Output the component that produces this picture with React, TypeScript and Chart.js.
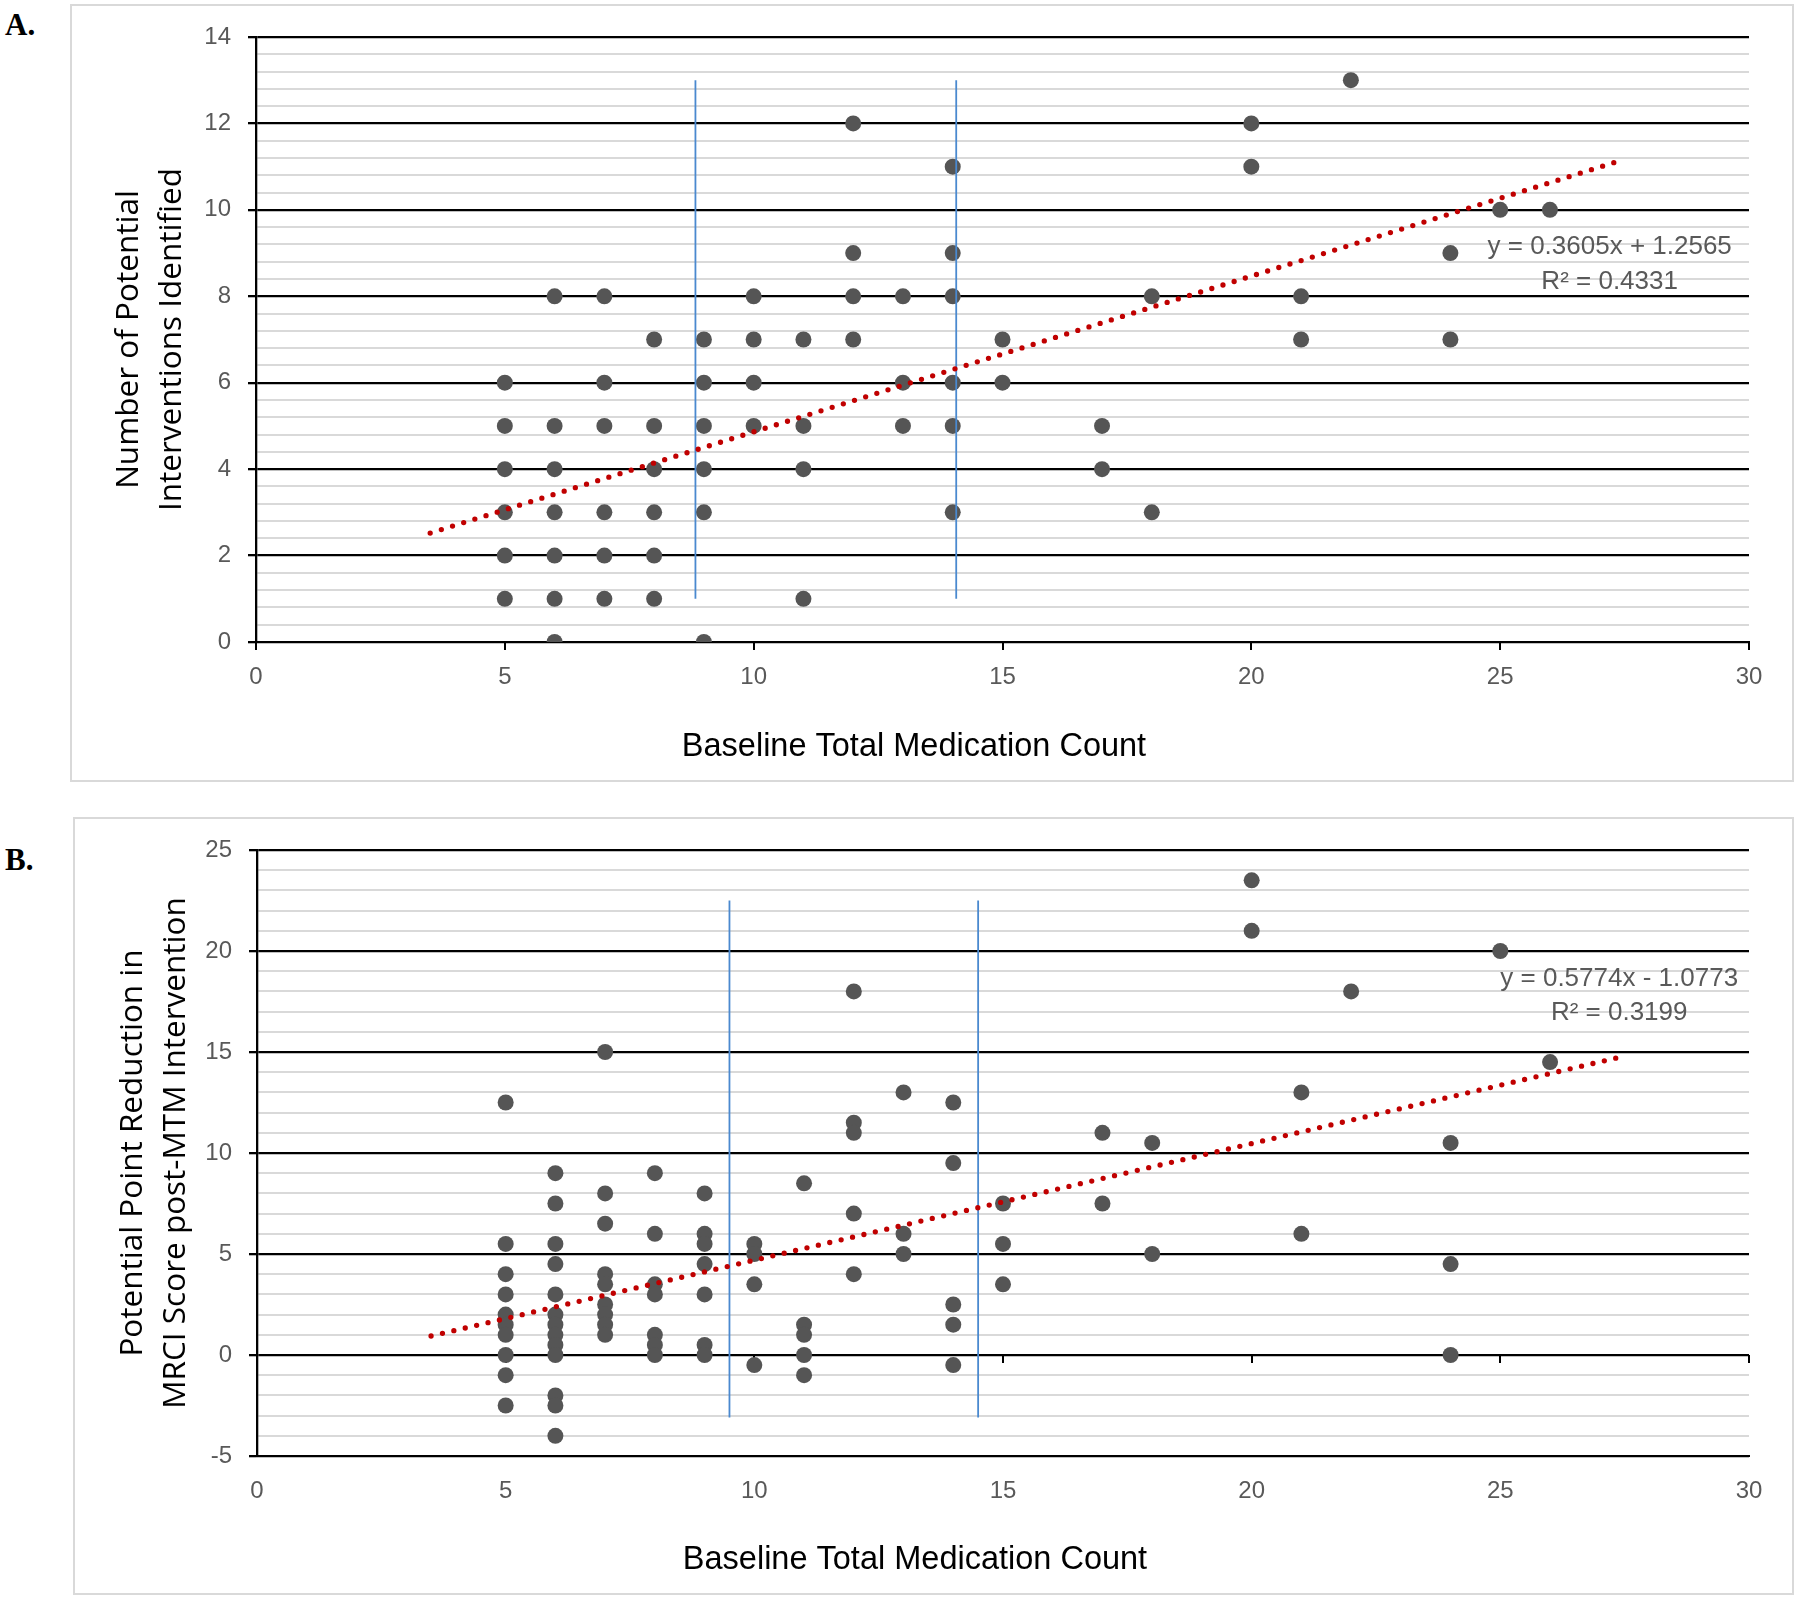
import React, { useEffect, useRef } from 'react';
import { Chart, registerables } from 'chart.js';

Chart.register(...registerables);

const FONT_UI = '"Liberation Sans", Arial, sans-serif';
const FONT_YTITLE = '"Open Sans", "Noto Sans", sans-serif';
const FONT_LETTER = '"Liberation Serif", "Times New Roman", serif';

// ---------- Panel A data ----------
const medCountA = [
  5, 5, 5, 5, 5, 5,
  6, 6, 6, 6, 6, 6, 6,
  7, 7, 7, 7, 7, 7,
  8, 8, 8, 8, 8, 8,
  9, 9, 9, 9, 9, 9,
  10, 10, 10, 10,
  11, 11, 11, 11,
  12, 12, 12, 12,
  13, 13, 13,
  14, 14, 14, 14, 14, 14,
  15, 15,
  17, 17,
  18, 18,
  20, 20,
  21, 21,
  22,
  24, 24,
  25,
  26,
];
const interventionsA = [
  6, 5, 4, 3, 2, 1,
  8, 5, 4, 3, 2, 1, 0,
  8, 6, 5, 3, 2, 1,
  7, 5, 4, 3, 2, 1,
  7, 6, 5, 4, 3, 0,
  8, 7, 6, 5,
  7, 5, 4, 1,
  12, 9, 8, 7,
  8, 6, 5,
  11, 9, 8, 6, 5, 3,
  7, 6,
  5, 4,
  8, 3,
  12, 11,
  8, 7,
  13,
  9, 7,
  10,
  10,
];
const trendXA = [3.5, 27.5];
const trendYA = [2.52, 11.17];
const cutoffXA = [8.83, 14.07];
const cutoffSpanA = [1, 13];
const equationA = ['y = 0.3605x + 1.2565', 'R\u00B2 = 0.4331'];
const equationXA = 27.2;
const equationYA = [9.15, 8.34];
const yTitleA = ['Number of Potential', 'Interventions Identified'];

// ---------- Panel B data ----------
const medCountB = [
  5, 5, 5, 5, 5, 5, 5, 5, 5, 5,
  6, 6, 6, 6, 6, 6, 6, 6, 6, 6, 6, 6, 6,
  7, 7, 7, 7, 7, 7, 7, 7, 7,
  8, 8, 8, 8, 8, 8, 8,
  9, 9, 9, 9, 9, 9, 9,
  10, 10, 10, 10,
  11, 11, 11, 11, 11,
  12, 12, 12, 12, 12,
  13, 13, 13,
  14, 14, 14, 14, 14,
  15, 15, 15,
  17, 17,
  18, 18,
  20, 20,
  21, 21,
  22,
  24, 24, 24,
  25,
  26,
];
const mrciReductionB = [
  12.5, 5.5, 4, 3, 2, 1.5, 1, 0, -1, -2.5,
  9, 7.5, 5.5, 4.5, 3, 2, 1.5, 1, 0.5, 0, -2, -2.5, -4,
  15, 8, 6.5, 4, 3.5, 2.5, 2, 1.5, 1,
  9, 6, 3.5, 3, 1, 0.5, 0,
  8, 6, 5.5, 4.5, 3, 0.5, 0,
  5.5, 5, 3.5, -0.5,
  8.5, 1.5, 1, 0, -1,
  18, 11.5, 11, 7, 4,
  13, 6, 5,
  12.5, 9.5, 2.5, 1.5, -0.5,
  7.5, 5.5, 3.5,
  11, 7.5,
  10.5, 5,
  23.5, 21,
  13, 6,
  18,
  10.5, 4.5, 0,
  20,
  14.5,
];
const trendXB = [3.5, 27.5];
const trendYB = [0.94, 14.8];
const cutoffXB = [9.5, 14.5];
const cutoffSpanB = [-3.1, 22.5];
const equationB = ['y = 0.5774x - 1.0773', 'R\u00B2 = 0.3199'];
const equationXB = 27.39;
const equationYB = [18.61, 16.93];
const yTitleB = ['Potential Point Reduction in', 'MRCI Score post-MTM Intervention'];

const xTitle = 'Baseline Total Medication Count';
const xTicksMax = 30;
const xTickStep = 5;

type PanelSpec = {
  xs: number[];
  ys: number[];
  trendX: number[];
  trendY: number[];
  cutoffX: number[];
  cutoffSpan: number[];
  eqLines: string[];
  eqX: number;
  eqY: number[];
  yTitle: string[];
  yMin: number;
  yMax: number;
  yMinor: number;
  yMajor: number;
  zeroAxis: boolean;
  pad: { left: number; right: number; top: number; bottom: number };
  yWidth: number;
  yTitlePad: number;
  xTitlePad: number;
  width: number;
  height: number;
};

const isMajor = (v: number, step: number) => {
  const r = v / step;
  return Math.abs(r - Math.round(r)) < 1e-6;
};

function Panel({ spec, style }: { spec: PanelSpec; style: React.CSSProperties }) {
  const ref = useRef<HTMLCanvasElement | null>(null);
  useEffect(() => {
    if (!ref.current) return;
    const s = spec;
    const eqPlugin = {
      id: 'eqText',
      afterDatasetsDraw(chart: any) {
        const { ctx, scales } = chart;
        ctx.save();
        ctx.font = `26px ${FONT_UI}`;
        ctx.fillStyle = '#595959';
        ctx.textAlign = 'center';
        ctx.textBaseline = 'middle';
        s.eqLines.forEach((t, i) => {
          ctx.fillText(t, scales.x.getPixelForValue(s.eqX), scales.y.getPixelForValue(s.eqY[i]));
        });
        ctx.restore();
      },
    };
    const datasets: any[] = [
      {
        type: 'line',
        data: s.trendX.map((x, i) => ({ x, y: s.trendY[i] })),
        borderColor: '#C00000',
        borderWidth: 5.3,
        borderDash: [0, 11.7],
        borderCapStyle: 'round',
        pointRadius: 0,
        fill: false,
        order: 0,
      },
      ...s.cutoffX.map((c) => ({
        type: 'line',
        data: [
          { x: c, y: s.cutoffSpan[0] },
          { x: c, y: s.cutoffSpan[1] },
        ],
        borderColor: '#4A89CF',
        borderWidth: 1.8,
        pointRadius: 0,
        fill: false,
        order: 1,
      })),
      {
        type: 'scatter',
        data: s.xs.map((x, i) => ({ x, y: s.ys[i] })),
        backgroundColor: '#555555',
        pointBackgroundColor: '#555555',
        pointBorderWidth: 0,
        borderWidth: 0,
        pointRadius: 8,
        order: 2,
      },
    ];
    const scales: any = {
      x: {
        type: 'linear',
        min: 0,
        max: xTicksMax,
        position: 'bottom',
        ticks: {
          stepSize: xTickStep,
          color: '#595959',
          font: { family: FONT_UI, size: 24 },
          padding: 13,
          autoSkip: false,
          maxRotation: 0,
        },
        grid: {
          display: true,
          drawOnChartArea: false,
          drawTicks: true,
          tickLength: 8,
          tickColor: s.zeroAxis ? 'rgba(0,0,0,0)' : '#000000',
          lineWidth: 2,
        },
        border: { display: true, color: '#000000', width: 2 },
        afterFit: (sc: any) => {
          sc.height = 60;
        },
      },
      y: {
        type: 'linear',
        min: s.yMin,
        max: s.yMax,
        ticks: {
          stepSize: s.yMinor,
          autoSkip: false,
          color: '#595959',
          font: { family: FONT_UI, size: 24 },
          padding: 17,
          callback: (v: number) => (isMajor(v, s.yMajor) ? String(Math.round(v)) : ''),
        },
        grid: {
          color: (c: any) => (c.tick && !isMajor(c.tick.value, s.yMajor) ? '#D9D9D9' : '#000000'),
          lineWidth: (c: any) => (c.tick && !isMajor(c.tick.value, s.yMajor) ? 2 : 2.3),
          tickColor: (c: any) => (c.tick && !isMajor(c.tick.value, s.yMajor) ? 'rgba(0,0,0,0)' : '#000000'),
          tickLength: 8,
        },
        border: { display: true, color: '#000000', width: 2.3 },
        title: {
          display: true,
          text: s.yTitle,
          color: '#000000',
          font: { family: FONT_YTITLE, size: 31.5, lineHeight: 43 / 31.5 },
          padding: { top: s.yTitlePad, bottom: 0 },
        },
        afterFit: (sc: any) => {
          sc.width = s.yWidth;
        },
      },
    };
    if (s.zeroAxis) {
      scales.x2 = {
        type: 'linear',
        axis: 'x',
        min: 0,
        max: xTicksMax,
        position: { y: 0 },
        ticks: { display: false, stepSize: xTickStep },
        grid: {
          display: true,
          drawOnChartArea: false,
          drawTicks: true,
          tickLength: 8,
          tickColor: '#000000',
          lineWidth: 2,
        },
        border: { display: false },
        afterFit: (sc: any) => {
          sc.height = 0;
        },
      };
    }
    const chart = new Chart(ref.current, {
      type: 'scatter',
      data: { datasets },
      options: {
        responsive: false,
        animation: false,
        devicePixelRatio: 1,
        layout: { padding: s.pad },
        plugins: {
          legend: { display: false },
          tooltip: { enabled: false },
          title: {
            display: true,
            position: 'bottom',
            text: xTitle,
            color: '#000000',
            font: { family: FONT_UI, size: 32.5, weight: 'normal', lineHeight: 1.2 },
            padding: { top: s.xTitlePad, bottom: 0 },
          },
        },
        scales,
      },
      plugins: [eqPlugin],
    } as any);
    return () => chart.destroy();
  }, [spec]);
  return (
    <canvas
      ref={ref}
      width={spec.width}
      height={spec.height}
      style={{ position: 'absolute', width: spec.width, height: spec.height, ...style }}
    />
  );
}

const specA: PanelSpec = {
  xs: medCountA,
  ys: interventionsA,
  trendX: trendXA,
  trendY: trendYA,
  cutoffX: cutoffXA,
  cutoffSpan: cutoffSpanA,
  eqLines: equationA,
  eqX: equationXA,
  eqY: equationYA,
  yTitle: yTitleA,
  yMin: 0,
  yMax: 14,
  yMinor: 0.4,
  yMajor: 2,
  zeroAxis: false,
  pad: { left: 79, right: 51, top: 37, bottom: 33.5 },
  yWidth: 177,
  yTitlePad: 29,
  xTitlePad: 25.5,
  width: 1800,
  height: 800,
};

const specB: PanelSpec = {
  xs: medCountB,
  ys: mrciReductionB,
  trendX: trendXB,
  trendY: trendYB,
  cutoffX: cutoffXB,
  cutoffSpan: cutoffSpanB,
  eqLines: equationB,
  eqX: equationXB,
  eqY: equationYB,
  yTitle: yTitleB,
  yMin: -5,
  yMax: 25,
  yMinor: 1,
  yMajor: 5,
  zeroAxis: true,
  pad: { left: 81, right: 51, top: 50, bottom: 20.5 },
  yWidth: 176,
  yTitlePad: 31,
  xTitlePad: 24.5,
  width: 1800,
  height: 800,
};

export default function App() {
  const letter: React.CSSProperties = {
    position: 'absolute',
    left: 5,
    fontFamily: FONT_LETTER,
    fontWeight: 'bold',
    fontSize: 31,
    lineHeight: '31px',
    color: '#000',
  };
  const box: React.CSSProperties = {
    position: 'absolute',
    border: '2px solid #D9D9D9',
    boxSizing: 'border-box',
  };
  return (
    <div style={{ position: 'absolute', left: 0, top: 0, width: 1800, height: 1600, background: '#fff', overflow: 'hidden' }}>
      <div style={{ ...box, left: 70, top: 4, width: 1724, height: 778 }} />
      <div style={{ ...box, left: 73, top: 817, width: 1721, height: 778 }} />
      <div style={{ ...letter, top: 9 }}>A.</div>
      <div style={{ ...letter, top: 844 }}>B.</div>
      <Panel spec={specA} style={{ left: 0, top: 0 }} />
      <Panel spec={specB} style={{ left: 0, top: 800 }} />
    </div>
  );
}
